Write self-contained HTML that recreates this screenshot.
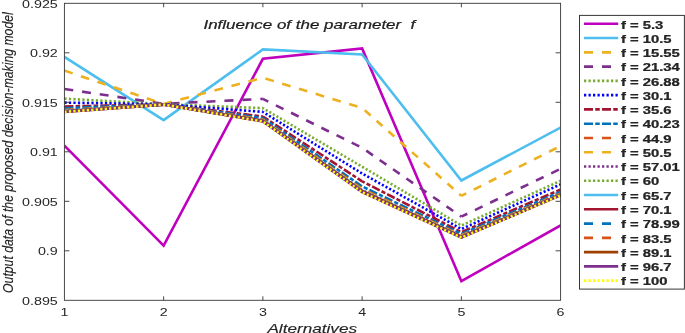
<!DOCTYPE html>
<html><head><meta charset="utf-8"><title>Influence of the parameter f</title>
<style>
html,body{margin:0;padding:0;background:#fff;}
body{width:685px;height:333px;overflow:hidden;font-family:"Liberation Sans",sans-serif;}
svg{display:block;will-change:transform;}
text{font-family:"Liberation Sans",sans-serif;fill:#262626;}
</style></head><body>
<svg width="685" height="333" viewBox="0 0 685 333">
<rect x="0" y="0" width="685" height="333" fill="#fff"/>
<defs><clipPath id="plot"><rect x="64.40" y="3.30" width="496.20" height="297.00"/></clipPath></defs>

<g clip-path="url(#plot)"><g transform="scale(1.0000,1)" fill="none" stroke-width="2.60" stroke-linejoin="miter" stroke-linecap="butt">
<polyline points="64.40,145.60 163.64,245.70 262.88,58.80 362.12,48.40 461.36,281.20 560.60,225.40" stroke="#BF00BF"/>
<polyline points="64.40,56.90 163.64,120.10 262.88,49.40 362.12,54.40 461.36,180.50 560.60,127.60" stroke="#4DBEEE"/>
<g stroke="#EDB120"><path d="M64.40 70.60L163.64 104.00" stroke-dasharray="8.700 8.700" stroke-dashoffset="0.000"/><path d="M163.64 104.00L262.88 77.80" stroke-dasharray="8.804 8.804" stroke-dashoffset="0.316"/><path d="M262.88 77.80L362.12 108.00" stroke-dasharray="8.748 8.748" stroke-dashoffset="14.818"/><path d="M362.12 108.00L461.36 195.80" stroke-dasharray="7.885 7.885" stroke-dashoffset="12.238"/><path d="M461.36 195.80L560.60 146.00" stroke-dasharray="8.434 8.434" stroke-dashoffset="3.016"/></g>
<g stroke="#7E2F8E"><path d="M64.40 89.00L163.64 103.80" stroke-dasharray="8.933 8.933" stroke-dashoffset="0.000"/><path d="M163.64 103.80L262.88 98.90" stroke-dasharray="8.992 8.992" stroke-dashoffset="11.079"/><path d="M262.88 98.90L362.12 147.80" stroke-dasharray="8.449 8.449" stroke-dashoffset="2.377"/><path d="M362.12 147.80L461.36 216.60" stroke-dasharray="8.135 8.135" stroke-dashoffset="11.196"/><path d="M461.36 216.60L560.60 168.80" stroke-dasharray="8.467 8.467" stroke-dashoffset="1.866"/></g>
<g stroke="#77AC30"><path d="M64.40 98.60L163.64 104.20" stroke-dasharray="2.248 2.248" stroke-dashoffset="0.000"/><path d="M163.64 104.20L262.88 108.10" stroke-dasharray="2.249 2.249" stroke-dashoffset="0.506"/><path d="M262.88 108.10L362.12 166.70" stroke-dasharray="2.073 2.073" stroke-dashoffset="0.807"/><path d="M362.12 166.70L461.36 225.50" stroke-dasharray="2.072 2.072" stroke-dashoffset="4.129"/><path d="M461.36 225.50L560.60 180.80" stroke-dasharray="2.129 2.129" stroke-dashoffset="3.549"/></g>
<g stroke="#0000FF"><path d="M64.40 102.60L163.64 104.30" stroke-dasharray="2.250 2.250" stroke-dashoffset="0.000"/><path d="M163.64 104.30L262.88 111.90" stroke-dasharray="2.245 2.245" stroke-dashoffset="0.264"/><path d="M262.88 111.90L362.12 173.50" stroke-dasharray="2.061 2.061" stroke-dashoffset="0.912"/><path d="M362.12 173.50L461.36 229.00" stroke-dasharray="2.085 2.085" stroke-dashoffset="2.331"/><path d="M461.36 229.00L560.60 184.40" stroke-dasharray="2.130 2.130" stroke-dashoffset="3.513"/></g>
<g stroke="#A2142F"><path d="M64.40 106.50L163.64 104.40" stroke-dasharray="8.999 2.250 4.499 2.250" stroke-dashoffset="0.000"/><path d="M163.64 104.40L262.88 116.50" stroke-dasharray="8.955 2.239 4.477 2.239" stroke-dashoffset="9.231"/><path d="M262.88 116.50L362.12 181.30" stroke-dasharray="8.195 2.049 4.097 2.049" stroke-dashoffset="1.599"/><path d="M362.12 181.30L461.36 232.20" stroke-dasharray="8.416 2.104 4.208 2.104" stroke-dashoffset="5.544"/><path d="M461.36 232.20L560.60 189.50" stroke-dasharray="8.551 2.138 4.275 2.138" stroke-dashoffset="16.348"/></g>
<g stroke="#0072BD"><path d="M64.40 108.20L163.64 104.40" stroke-dasharray="8.995 2.249 4.498 2.249" stroke-dashoffset="0.000"/><path d="M163.64 104.40L262.88 118.10" stroke-dasharray="8.942 2.236 4.471 2.236" stroke-dashoffset="9.303"/><path d="M262.88 118.10L362.12 186.40" stroke-dasharray="8.142 2.036 4.071 2.036" stroke-dashoffset="1.980"/><path d="M362.12 186.40L461.36 234.00" stroke-dasharray="8.470 2.118 4.235 2.118" stroke-dashoffset="8.800"/><path d="M461.36 234.00L560.60 192.00" stroke-dasharray="8.562 2.141 4.281 2.141" stroke-dashoffset="0.288"/></g>
<g stroke="#D95319"><path d="M64.40 110.00L163.64 104.50" stroke-dasharray="8.991 8.991" stroke-dashoffset="0.000"/><path d="M163.64 104.50L262.88 119.40" stroke-dasharray="8.932 8.932" stroke-dashoffset="9.426"/><path d="M262.88 119.40L362.12 188.80" stroke-dasharray="8.126 8.126" stroke-dashoffset="2.357"/><path d="M362.12 188.80L461.36 235.30" stroke-dasharray="8.488 8.488" stroke-dashoffset="10.120"/><path d="M461.36 235.30L560.60 193.50" stroke-dasharray="8.566 8.566" stroke-dashoffset="0.887"/></g>
<g stroke="#EDB120"><path d="M64.40 110.38L163.64 104.52" stroke-dasharray="8.989 8.989" stroke-dashoffset="0.000"/><path d="M163.64 104.52L262.88 119.82" stroke-dasharray="8.929 8.929" stroke-dashoffset="9.457"/><path d="M262.88 119.82L362.12 189.48" stroke-dasharray="8.122 8.122" stroke-dashoffset="2.479"/><path d="M362.12 189.48L461.36 235.76" stroke-dasharray="8.492 8.492" stroke-dashoffset="10.469"/><path d="M461.36 235.76L560.60 193.86" stroke-dasharray="8.564 8.564" stroke-dashoffset="1.092"/></g>
<g stroke="#7E2F8E"><path d="M64.40 110.73L163.64 104.54" stroke-dasharray="2.247 2.247" stroke-dashoffset="0.000"/><path d="M163.64 104.54L262.88 120.21" stroke-dasharray="2.231 2.231" stroke-dashoffset="0.561"/><path d="M262.88 120.21L362.12 190.11" stroke-dasharray="2.030 2.030" stroke-dashoffset="2.594"/><path d="M362.12 190.11L461.36 236.19" stroke-dasharray="2.124 2.124" stroke-dashoffset="2.298"/><path d="M461.36 236.19L560.60 194.19" stroke-dasharray="2.141 2.141" stroke-dashoffset="1.285"/></g>
<g stroke="#77AC30"><path d="M64.40 110.87L163.64 104.55" stroke-dasharray="2.247 2.247" stroke-dashoffset="0.000"/><path d="M163.64 104.55L262.88 120.36" stroke-dasharray="2.231 2.231" stroke-dashoffset="0.575"/><path d="M262.88 120.36L362.12 190.35" stroke-dasharray="2.029 2.029" stroke-dashoffset="2.640"/><path d="M362.12 190.35L461.36 236.35" stroke-dasharray="2.124 2.124" stroke-dashoffset="2.424"/><path d="M461.36 236.35L560.60 194.32" stroke-dasharray="2.140 2.140" stroke-dashoffset="1.361"/></g>
<polyline points="64.40,111.09 163.64,104.56 262.88,120.61 362.12,190.75 461.36,236.62 560.60,194.53" stroke="#4DBEEE"/>
<polyline points="64.40,111.24 163.64,104.57 262.88,120.77 362.12,191.02 461.36,236.80 560.60,194.67" stroke="#A2142F"/>
<g stroke="#0072BD"><path d="M64.40 111.49L163.64 104.58" stroke-dasharray="8.985 8.985" stroke-dashoffset="0.000"/><path d="M163.64 104.58L262.88 121.04" stroke-dasharray="8.918 8.918" stroke-dashoffset="9.558"/><path d="M262.88 121.04L362.12 191.46" stroke-dasharray="8.111 8.111" stroke-dashoffset="2.855"/><path d="M362.12 191.46L461.36 237.10" stroke-dasharray="8.502 8.502" stroke-dashoffset="11.509"/><path d="M461.36 237.10L560.60 194.91" stroke-dasharray="8.559 8.559" stroke-dashoffset="1.717"/></g>
<g stroke="#D95319"><path d="M64.40 111.59L163.64 104.58" stroke-dasharray="8.985 8.985" stroke-dashoffset="0.000"/><path d="M163.64 104.58L262.88 121.16" stroke-dasharray="8.917 8.917" stroke-dashoffset="9.568"/><path d="M262.88 121.16L362.12 191.65" stroke-dasharray="8.110 8.110" stroke-dashoffset="2.893"/><path d="M362.12 191.65L461.36 237.23" stroke-dasharray="8.503 8.503" stroke-dashoffset="11.611"/><path d="M461.36 237.23L560.60 195.01" stroke-dasharray="8.559 8.559" stroke-dashoffset="1.779"/></g>
<polyline points="64.40,111.71 163.64,104.59 262.88,121.29 362.12,191.86 461.36,237.37 560.60,195.12" stroke="#A04000"/>
<polyline points="64.40,111.85 163.64,104.60 262.88,121.44 362.12,192.11 461.36,237.54 560.60,195.25" stroke="#7E2F8E"/>
<g stroke="#FFFF00"><path d="M64.40 111.90L163.64 104.60" stroke-dasharray="2.246 2.246" stroke-dashoffset="0.000"/><path d="M163.64 104.60L262.88 121.50" stroke-dasharray="2.228 2.228" stroke-dashoffset="0.686"/><path d="M262.88 121.50L362.12 192.20" stroke-dasharray="2.027 2.027" stroke-dashoffset="3.005"/><path d="M362.12 192.20L461.36 237.60" stroke-dasharray="2.127 2.127" stroke-dashoffset="3.401"/><path d="M461.36 237.60L560.60 195.30" stroke-dasharray="2.139 2.139" stroke-dashoffset="1.961"/></g>
</g></g>
<g stroke="#363636" stroke-width="0.9" fill="none" shape-rendering="auto">
<rect x="64.40" y="3.30" width="496.20" height="297.00"/>
<path d="M163.64 300.30V296.30M163.64 3.30V7.30"/>
<path d="M262.88 300.30V296.30M262.88 3.30V7.30"/>
<path d="M362.12 300.30V296.30M362.12 3.30V7.30"/>
<path d="M461.36 300.30V296.30M461.36 3.30V7.30"/>
<path d="M64.40 250.80H69.40M560.60 250.80H555.60"/>
<path d="M64.40 201.30H69.40M560.60 201.30H555.60"/>
<path d="M64.40 151.80H69.40M560.60 151.80H555.60"/>
<path d="M64.40 102.30H69.40M560.60 102.30H555.60"/>
<path d="M64.40 52.80H69.40M560.60 52.80H555.60"/>
</g>
<text transform="translate(57.80,304.90) scale(1.3000,1)" font-size="11" text-anchor="end">0.895</text>
<text transform="translate(57.80,255.40) scale(1.3000,1)" font-size="11" text-anchor="end">0.9</text>
<text transform="translate(57.80,205.90) scale(1.3000,1)" font-size="11" text-anchor="end">0.905</text>
<text transform="translate(57.80,156.40) scale(1.3000,1)" font-size="11" text-anchor="end">0.91</text>
<text transform="translate(57.80,106.90) scale(1.3000,1)" font-size="11" text-anchor="end">0.915</text>
<text transform="translate(57.80,57.40) scale(1.3000,1)" font-size="11" text-anchor="end">0.92</text>
<text transform="translate(57.80,7.90) scale(1.3000,1)" font-size="11" text-anchor="end">0.925</text>
<text transform="translate(64.40,316.40) scale(1.3000,1)" font-size="11" text-anchor="middle">1</text>
<text transform="translate(163.64,316.40) scale(1.3000,1)" font-size="11" text-anchor="middle">2</text>
<text transform="translate(262.88,316.40) scale(1.3000,1)" font-size="11" text-anchor="middle">3</text>
<text transform="translate(362.12,316.40) scale(1.3000,1)" font-size="11" text-anchor="middle">4</text>
<text transform="translate(461.36,316.40) scale(1.3000,1)" font-size="11" text-anchor="middle">5</text>
<text transform="translate(560.60,316.40) scale(1.3000,1)" font-size="11" text-anchor="middle">6</text>
<text transform="translate(203.5,28.9) scale(1.412,1)" font-size="12" font-style="italic" fill="#000" stroke="#000" stroke-width="0.18" xml:space="preserve">Influence of the parameter&#160;&#160;f</text>
<text transform="translate(312.2,333.3) scale(1.32,1)" font-size="13" font-style="italic" text-anchor="middle" fill="#111" stroke="#111" stroke-width="0.12">Alternatives</text>
<text transform="translate(13,152.6) rotate(-90) scale(0.816,1)" font-size="15" font-style="italic" text-anchor="middle" fill="#1c1c1c" stroke="#1c1c1c" stroke-width="0.15">Output data of the proposed decision-making model</text>
<rect x="579.50" y="15.40" width="104.90" height="273.70" fill="#fff" stroke="#363636" stroke-width="1"/>
<g transform="scale(1.0000,1)" fill="none" stroke-width="2.60">
<path d="M584.00 23.80H618.20" stroke="#BF00BF"/>
<path d="M584.00 38.07H618.20" stroke="#4DBEEE"/>
<path d="M584.00 52.34H618.20" stroke="#EDB120" stroke-dasharray="9.000 9.000"/>
<path d="M584.00 66.61H618.20" stroke="#7E2F8E" stroke-dasharray="9.000 9.000"/>
<path d="M584.00 80.88H618.20" stroke="#77AC30" stroke-dasharray="2.250 2.250"/>
<path d="M584.00 95.15H618.20" stroke="#0000FF" stroke-dasharray="2.250 2.250"/>
<path d="M584.00 109.42H618.20" stroke="#A2142F" stroke-dasharray="9.000 2.250 4.500 2.250"/>
<path d="M584.00 123.69H618.20" stroke="#0072BD" stroke-dasharray="9.000 2.250 4.500 2.250"/>
<path d="M584.00 137.96H618.20" stroke="#D95319" stroke-dasharray="9.000 9.000"/>
<path d="M584.00 152.23H618.20" stroke="#EDB120" stroke-dasharray="9.000 9.000"/>
<path d="M584.00 166.50H618.20" stroke="#7E2F8E" stroke-dasharray="2.250 2.250"/>
<path d="M584.00 180.77H618.20" stroke="#77AC30" stroke-dasharray="2.250 2.250"/>
<path d="M584.00 195.04H618.20" stroke="#4DBEEE"/>
<path d="M584.00 209.31H618.20" stroke="#A2142F"/>
<path d="M584.00 223.58H618.20" stroke="#0072BD" stroke-dasharray="9.000 9.000"/>
<path d="M584.00 237.85H618.20" stroke="#D95319" stroke-dasharray="9.000 9.000"/>
<path d="M584.00 252.12H618.20" stroke="#A04000"/>
<path d="M584.00 266.39H618.20" stroke="#7E2F8E"/>
<path d="M584.00 280.66H618.20" stroke="#FFFF00" stroke-dasharray="2.250 2.250"/>
</g>
<text transform="translate(620.9,28.50) scale(1.349,1)" font-size="11" font-weight="bold" fill="#000" stroke="#000" stroke-width="0.2">f = 5.3</text>
<text transform="translate(620.9,42.77) scale(1.349,1)" font-size="11" font-weight="bold" fill="#000" stroke="#000" stroke-width="0.2">f = 10.5</text>
<text transform="translate(620.9,57.04) scale(1.349,1)" font-size="11" font-weight="bold" fill="#000" stroke="#000" stroke-width="0.2">f = 15.55</text>
<text transform="translate(620.9,71.31) scale(1.349,1)" font-size="11" font-weight="bold" fill="#000" stroke="#000" stroke-width="0.2">f = 21.34</text>
<text transform="translate(620.9,85.58) scale(1.349,1)" font-size="11" font-weight="bold" fill="#000" stroke="#000" stroke-width="0.2">f = 26.88</text>
<text transform="translate(620.9,99.85) scale(1.349,1)" font-size="11" font-weight="bold" fill="#000" stroke="#000" stroke-width="0.2">f = 30.1</text>
<text transform="translate(620.9,114.12) scale(1.349,1)" font-size="11" font-weight="bold" fill="#000" stroke="#000" stroke-width="0.2">f = 35.6</text>
<text transform="translate(620.9,128.39) scale(1.349,1)" font-size="11" font-weight="bold" fill="#000" stroke="#000" stroke-width="0.2">f = 40.23</text>
<text transform="translate(620.9,142.66) scale(1.349,1)" font-size="11" font-weight="bold" fill="#000" stroke="#000" stroke-width="0.2">f = 44.9</text>
<text transform="translate(620.9,156.93) scale(1.349,1)" font-size="11" font-weight="bold" fill="#000" stroke="#000" stroke-width="0.2">f = 50.5</text>
<text transform="translate(620.9,171.20) scale(1.349,1)" font-size="11" font-weight="bold" fill="#000" stroke="#000" stroke-width="0.2">f = 57.01</text>
<text transform="translate(620.9,185.47) scale(1.349,1)" font-size="11" font-weight="bold" fill="#000" stroke="#000" stroke-width="0.2">f = 60</text>
<text transform="translate(620.9,199.74) scale(1.349,1)" font-size="11" font-weight="bold" fill="#000" stroke="#000" stroke-width="0.2">f = 65.7</text>
<text transform="translate(620.9,214.01) scale(1.349,1)" font-size="11" font-weight="bold" fill="#000" stroke="#000" stroke-width="0.2">f = 70.1</text>
<text transform="translate(620.9,228.28) scale(1.349,1)" font-size="11" font-weight="bold" fill="#000" stroke="#000" stroke-width="0.2">f = 78.99</text>
<text transform="translate(620.9,242.55) scale(1.349,1)" font-size="11" font-weight="bold" fill="#000" stroke="#000" stroke-width="0.2">f = 83.5</text>
<text transform="translate(620.9,256.82) scale(1.349,1)" font-size="11" font-weight="bold" fill="#000" stroke="#000" stroke-width="0.2">f = 89.1</text>
<text transform="translate(620.9,271.09) scale(1.349,1)" font-size="11" font-weight="bold" fill="#000" stroke="#000" stroke-width="0.2">f = 96.7</text>
<text transform="translate(620.9,285.36) scale(1.349,1)" font-size="11" font-weight="bold" fill="#000" stroke="#000" stroke-width="0.2">f = 100</text>
</svg></body></html>
